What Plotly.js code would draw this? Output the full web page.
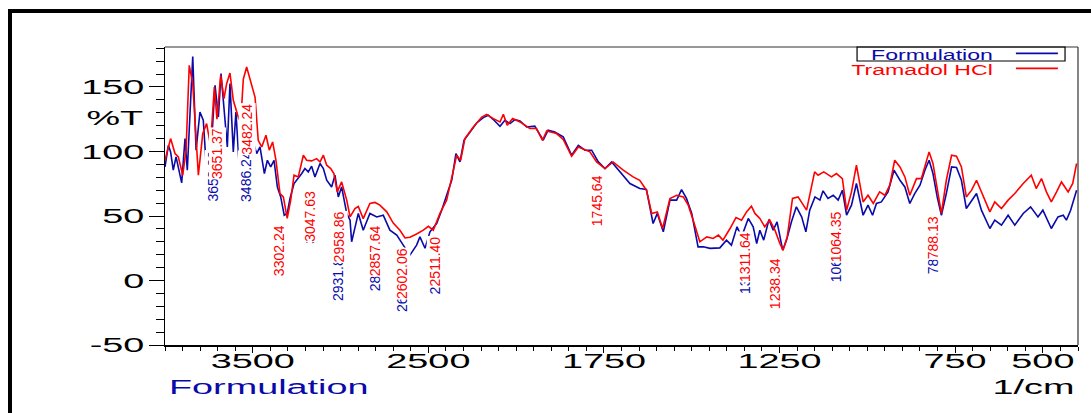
<!DOCTYPE html>
<html><head><meta charset="utf-8">
<script src="https://cdn.plot.ly/plotly-3.0.1.min.js"></script>
<style>
html,body{margin:0;padding:0;background:#fff;overflow:hidden}
#chart{width:1091px;height:413px}
#frame{position:absolute;left:8px;top:9px;width:1200px;height:600px;border-left:4px solid #000;border-top:4px solid #000;pointer-events:none}
</style></head>
<body><div id="chart"></div><div id="frame"></div>
<script>
// ---- data: wavenumber (1/cm) and %T ----
const formWn = [4000,3981,3968,3953,3937,3924,3905,3886,3873,3842,3823,3801,3782,3757,3734,3715,3696,3681,3664,3645,3630,3611,3596,3577,3563,3535,3506,3478,3459,3434,3417,3398,3379,3360,3341,3321,3304,3288,3265,3241,3221,3203,3184,3165,3146,3117,3098,3079,3051,3032,3013,2994,2965,2946,2937,2918,2899,2871,2833,2794,2757,2719,2680,2643,2605,2567,2548,2519,2491,2453,2424,2396,2367,2343,2320,2297,2263,2225,2187,2159,2126,2092,2064,2035,2007,1989,1970,1947,1923,1909,1890,1866,1842,1823,1804,1785,1766,1747,1728,1705,1676,1648,1629,1610,1598,1581,1562,1543,1529,1515,1500,1482,1467,1448,1420,1401,1387,1371,1358,1339,1325,1315,1306,1295,1280,1268,1257,1241,1230,1216,1202,1187,1175,1164,1149,1135,1126,1112,1097,1083,1071,1059,1045,1031,1012,998,985,974,960,941,924,907,893,879,865,850,836,824,813,801,789,775,760,746,732,718,703,689,675,651,637,618,599,580,556,535,514,500,476,457,442,433,421,404];
const formT = [88,104.8,99.7,85.5,95.8,86.8,75.7,110,85.5,173.7,101,130.6,124.2,71.3,108.7,151.3,126.7,160.4,132,103.5,152.6,99.7,130.6,88,135.8,125,111.3,98.4,103.5,82.9,93.2,88,93.2,72.5,64.8,50.6,52,63.6,75.2,79,82.9,86.8,84.2,88.6,80.3,90.7,86.8,77.7,72.5,81.6,64.8,72.5,52,46.8,30,41,52,39,52,49.3,50.6,39,35.2,27.4,19.7,27.4,33.8,25,37.7,44.2,54.5,66.1,77.7,98.4,91.9,108.7,115.1,122.1,126.3,128.1,124.2,119.6,124.2,121.6,124.7,123.7,119,119.6,108.7,116.5,115.1,111.3,97.1,104.8,101,101,91.9,86.8,91.9,84.2,75.2,71.3,70.5,44.2,52,37.7,62.3,62.3,70.5,63.6,52,26.1,26.1,24.9,25.3,31.3,27.4,41.6,33.8,48.1,41.6,28.7,39,31.3,47.3,39,45.5,23.5,31.3,45.5,57.1,49.3,37.7,54.5,64.8,62.3,69.5,63.6,66.1,62.3,70,50.6,58.4,75.2,50.6,58.4,50.6,59.7,60.9,68.7,85.5,77.7,72.5,59.7,67.4,73.9,85.5,93.2,82.9,64.8,50.6,67.4,88,87.6,77.7,55.8,62.3,67.4,54.5,40.3,46.8,42.9,50.6,42.9,52,57.1,49.3,54.5,40.3,49.3,50.6,46.8,54.5,70];

const tramWn = [4000,3968,3943,3924,3899,3880,3862,3842,3810,3785,3763,3741,3719,3704,3683,3664,3649,3630,3611,3592,3579,3563,3554,3535,3506,3487,3469,3449,3425,3406,3387,3368,3345,3326,3304,3284,3265,3241,3212,3193,3165,3136,3117,3098,3079,3056,3038,3019,2994,2965,2946,2918,2899,2871,2833,2804,2776,2737,2700,2662,2633,2605,2567,2529,2500,2472,2434,2396,2358,2339,2316,2292,2244,2196,2168,2130,2092,2073,2051,2020,1989,1961,1942,1925,1913,1885,1866,1842,1823,1790,1771,1747,1724,1695,1667,1648,1629,1614,1598,1583,1562,1543,1524,1510,1496,1477,1457,1439,1424,1411,1391,1374,1358,1344,1330,1320,1306,1292,1278,1263,1249,1240,1228,1213,1197,1187,1173,1150,1140,1124,1102,1088,1071,1059,1045,1031,1012,998,983,965,950,936,922,907,893,879,860,846,836,824,813,801,789,775,760,746,732,718,703,689,670,651,637,618,599,580,556,533,519,504,490,476,461,447,428,415,404];
const tramT = [93.2,110,98.4,95.8,81.6,101,166.8,152.6,81.6,113.9,121.6,105,150,125,159,141,152.6,160.8,139.7,130.6,125,135.8,156,165.5,150,142,108.7,103.5,112.6,101,107.4,93.2,67.4,64.8,48.1,62.3,81.6,80.3,97.1,93.2,92.7,94.5,91.9,97.1,89.4,86.8,82.9,68.7,76.4,62.3,49.3,55.8,57.4,48,59.7,60.5,58.4,53.2,44.5,39,33,33.5,36,39,42,39,52,62.3,85,97.1,93.2,110,119,126.7,128.8,125.5,122.9,128.8,120.3,125.5,122.9,117.8,117.8,108.7,115.9,113.9,109.3,96.3,103.5,99.7,91.9,86.8,91.9,85.5,80.3,77.7,70,52,53.2,40.3,63.6,66.1,64.8,58.4,46.8,30,33.8,32.6,35.2,31.3,40.3,48.8,46.8,53.2,57.6,52,48.1,41.6,46.8,39,28.7,23.5,33.8,63.6,64.8,60.9,54.5,84.2,81.6,84.2,80.3,82.9,79,54.5,68.7,89.4,60.9,66.1,59.7,68.7,66.1,73.9,93.2,88,80.3,66.1,79,79,88,99.7,90.7,70,52,77.7,97.1,96.3,88,64.8,70,77.7,66.1,53.2,60.9,55.8,62.3,67.4,75.2,81.6,71.3,79,68.7,60.9,68.7,76.4,68.7,75.2,90.7];

// peak picks (1/cm)
const redPeaks = [3651.37, 3482.24, 3302.24, 3047.63, 2958.86, 2857.64, 2602.06, 2511.40, 1745.64, 1311.64, 1238.34, 1064.35, 788.13];
const bluePeaks = [3653.30, 3486.24, 3047.63, 2931.80, 2857.64, 2602.06, 2511.40, 1311.64, 1064.35, 788.13];

// axis tick labels
const xTickWn = [3500, 2500, 1750, 1250, 750, 500];
const yTickVals = [-50, 0, 50, 100, 150];
const seriesNames = ['Formulation', 'Tramadol HCl'];

// ---- placement of peak labels (layout, not data) ----
const redLabelBase = [77.7, 97.1, 2.6, 29, 13.5, 2.6, -15.2, -5.1, 41.3, -2, -22.9, 13.5, 15.8];
const redLabelSide = ['right','right','right','right','right','left','right','left','right','right','right','right','right'];
const redLabelShift = [0, 0, 0, -14, 0, 0, 0, 0, 0, -4, 0, 0, 0];
const blueLabelBase = [60.7, 59.9, 27.4, -16.7, -9, -25.2, -11.3, -11.3, -2, 4.2];
const blueLabelSide = ['right','right','right','right','left','right','left','right','right','right'];
const blueLabelShift = [-4, 0, -14, -6, 0, 0, 0, -4, 0, 0];

// x-scale of the instrument: 4000-2000 compressed 2x
const wnToU = w => (w <= 2000 ? w : 2000 + (w - 2000) / 2);

const BLUE = '#0A0AAA', RED = '#FF0000';
const FONT = 'Liberation Sans, Arial, sans-serif';

const traces = [
  {x: formWn.map(wnToU), y: formT, type: 'scatter', mode: 'lines', name: seriesNames[0], line: {color: BLUE, width: 1.6}},
  {x: tramWn.map(wnToU), y: tramT, type: 'scatter', mode: 'lines', name: seriesNames[1], line: {color: RED, width: 1.6}}
];

const annotations = [];
const stretch = {};
function peakLabel(p, base, side, shift, color) {
  annotations.push({x: wnToU(p), y: base, xref: 'x', yref: 'y', text: p.toFixed(2), textangle: -90,
    xanchor: side, yanchor: 'bottom', xshift: shift, showarrow: false, bgcolor: '#fff', borderpad: 0,
    font: {family: FONT, size: 14, color: color}});
}
bluePeaks.forEach((p, i) => peakLabel(p, blueLabelBase[i], blueLabelSide[i], blueLabelShift[i], BLUE));
redPeaks.forEach((p, i) => peakLabel(p, redLabelBase[i], redLabelSide[i], redLabelShift[i], RED));

function paperText(text, x, y, xanchor, size, color, sx) {
  stretch[annotations.length] = {sx: sx, origin: xanchor === 'center' ? 'center' : xanchor};
  annotations.push({x: x, y: y, xref: 'paper', yref: 'paper', text: text, xanchor: xanchor, yanchor: 'middle',
    showarrow: false, font: {family: FONT, size: size, color: color}});
}
paperText('%T', -0.0548, 0.762, 'center', 21, '#000', 1.8);
paperText(seriesNames[0], 0.002, -0.1376, 'left', 21, BLUE, 1.8);
paperText('1/cm', 0.9989, -0.1376, 'right', 21, '#000', 1.8);
paperText(seriesNames[0], 0.909, 0.973, 'right', 14, BLUE, 1.65);
paperText(seriesNames[1], 0.909, 0.9228, 'right', 14, RED, 1.65);

const shapes = [
  {type: 'line', xref: 'paper', yref: 'paper', x0: 0, x1: 1, y0: 1, y1: 1, line: {color: '#333', width: 1.2}},
  {type: 'line', xref: 'paper', yref: 'paper', x0: 1, x1: 1, y0: 0, y1: 1, line: {color: '#333', width: 1.2}},
  {type: 'rect', xref: 'paper', yref: 'paper', x0: 0.758, x1: 0.9858, y0: 0.953, y1: 1, line: {color: '#000', width: 1.2}, fillcolor: 'rgba(0,0,0,0)'},
  {type: 'line', xref: 'paper', yref: 'paper', x0: 0.932, x1: 0.978, y0: 0.9789, y1: 0.9789, line: {color: BLUE, width: 1.8}},
  {type: 'line', xref: 'paper', yref: 'paper', x0: 0.932, x1: 0.978, y0: 0.9285, y1: 0.9285, line: {color: RED, width: 1.8}}
];

const layout = {
  width: 1091, height: 413,
  margin: {l: 165, r: 13, t: 47, b: 68, pad: 0},
  paper_bgcolor: '#fff', plot_bgcolor: '#fff',
  showlegend: false,
  xaxis: {
    range: [3000, 400], tickmode: 'array', tickvals: xTickWn.map(wnToU), ticktext: xTickWn.map(String),
    ticks: 'outside', ticklen: 6, tickwidth: 1, tickcolor: '#000',
    showline: true, linecolor: '#000', linewidth: 1.5, showgrid: false, zeroline: false,
    tickfont: {family: FONT, size: 21, color: '#000'},
    minor: {tickmode: 'linear', tick0: 0, dtick: 50, ticks: 'outside', ticklen: 4, tickcolor: '#000', tickwidth: 1, showgrid: false}
  },
  yaxis: {
    range: [-50, 181], tickmode: 'array', tickvals: yTickVals, ticktext: yTickVals.map(String),
    ticks: 'outside', ticklen: 15, tickwidth: 1, tickcolor: '#000',
    showline: true, linecolor: '#000', linewidth: 1.5, showgrid: false, zeroline: false,
    tickfont: {family: FONT, size: 21, color: '#000'},
    minor: {tickmode: 'linear', tick0: 0, dtick: 10, ticks: 'outside', ticklen: 8, tickcolor: '#000', tickwidth: 1, showgrid: false}
  },
  annotations: annotations,
  shapes: shapes
};

function stretchText(el, sx, origin, dy) {
  const t = el.getAttribute('transform') || '';
  let tx = 0, ty = 0;
  if (t) {
    const m = t.match(/^\s*translate\(\s*([-\d.eE]+)(?:[\s,]+([-\d.eE]+))?\s*\)\s*$/);
    if (!m) return;
    tx = +m[1]; ty = +(m[2] || 0);
  }
  ty += (dy || 0);
  el.style.transformBox = 'fill-box';
  el.style.transformOrigin = origin + ' center';
  el.style.transform = 'translate(' + tx + 'px, ' + ty + 'px) scaleX(' + sx + ')';
}

Plotly.newPlot('chart', traces, layout, {staticPlot: true}).then(function () {
  document.querySelectorAll('.xtick text').forEach(el => stretchText(el, 1.8, 'center', -10));
  document.querySelectorAll('.ytick text').forEach(el => stretchText(el, 1.8, 'right', 0));
  document.querySelectorAll('g.annotation').forEach(g => {
    const idx = +g.getAttribute('data-index');
    const s = stretch[idx];
    if (!s) return;
    const t = g.querySelector('text.annotation-text');
    if (t) stretchText(t, s.sx, s.origin, 0);
  });
});
</script>
</body></html>
